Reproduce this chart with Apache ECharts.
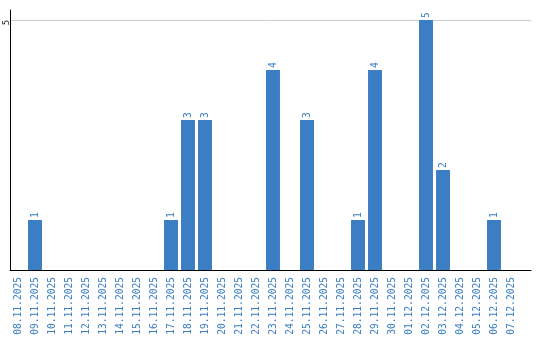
<!DOCTYPE html>
<html><head><meta charset="utf-8">
<script src="https://cdn.jsdelivr.net/npm/echarts@6/dist/echarts.min.js"></script>
<style>html,body{margin:0;padding:0;background:#fff}#c{width:540px;height:340px}</style>
</head><body><div id="c"></div>
<script>
const categories = ['08.11.2025','09.11.2025','10.11.2025','11.11.2025','12.11.2025','13.11.2025','14.11.2025','15.11.2025','16.11.2025','17.11.2025','18.11.2025','19.11.2025','20.11.2025','21.11.2025','22.11.2025','23.11.2025','24.11.2025','25.11.2025','26.11.2025','27.11.2025','28.11.2025','29.11.2025','30.11.2025','01.12.2025','02.12.2025','03.12.2025','04.12.2025','05.12.2025','06.12.2025','07.12.2025'];
const values = [0,1,0,0,0,0,0,0,0,1,3,3,0,0,0,4,0,3,0,0,1,4,0,0,5,2,0,0,1,0];
const yTicks = [5];

const blue = '#3b7ec4';
const font = 'DejaVu Sans Mono';
const chart = echarts.init(document.getElementById('c'));
chart.setOption({
  animation: false,
  grid: [
    {left: 10, right: 9, top: 10, bottom: 70, outerBoundsMode: 'none', containLabel: false},
    {left: 9.5, right: 20.5, top: 10, bottom: 70, outerBoundsMode: 'none', containLabel: false}
  ],
  xAxis: [
    {gridIndex: 0, type: 'value', min: 0, max: 1, axisLine: {show: true, onZero: false, lineStyle: {color: '#000', width: 1}}, axisTick: {show: false}, axisLabel: {show: false}, splitLine: {show: false}},
    {gridIndex: 1, type: 'category', data: categories, axisLine: {show: false}, axisTick: {show: false},
     axisLabel: {rotate: 90, color: blue, fontFamily: font, fontSize: 9.6, margin: 7, interval: 0}}
  ],
  yAxis: [
    {gridIndex: 0, type: 'value', min: 0, max: 5.2, interval: 5,
     axisLine: {show: true, lineStyle: {color: '#000', width: 1}}, axisTick: {show: false},
     axisLabel: {rotate: 90, color: '#222', fontFamily: font, fontSize: 9, lineHeight: 9, margin: -1, padding: [0, 5, 0, 0],
       formatter: v => yTicks.includes(v) ? String(v) : '', showMaxLabel: false, showMinLabel: false},
     splitLine: {show: true, showMinLine: false, showMaxLine: false, lineStyle: {color: '#cccccc', width: 1}}},
    {gridIndex: 1, type: 'value', min: 0, max: 5.2, show: false, splitLine: {show: false}}
  ],
  series: [{
    type: 'bar', xAxisIndex: 1, yAxisIndex: 1, data: values,
    barCategoryGap: '18%',
    itemStyle: {color: blue},
    label: {show: true, position: 'top', rotate: 90, align: 'left', verticalAlign: 'middle', distance: 2,
      color: blue, fontFamily: font, fontSize: 9.6, formatter: p => p.value > 0 ? String(p.value) : ''}
  }]
});
</script></body></html>
